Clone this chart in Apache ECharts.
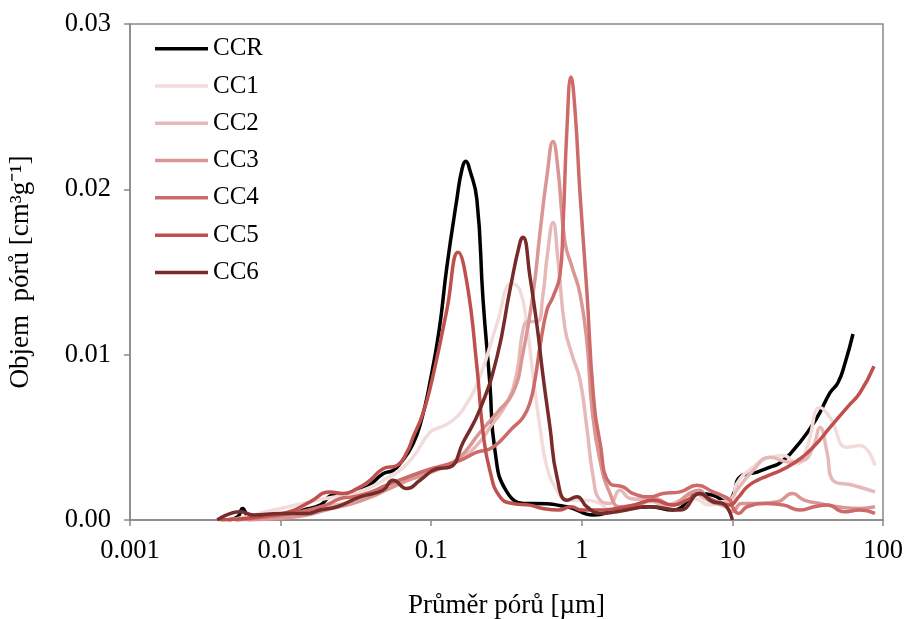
<!DOCTYPE html>
<html>
<head>
<meta charset="utf-8">
<script src="https://cdn.jsdelivr.net/npm/echarts@6/dist/echarts.min.js"></script>
<style>
  html, body { margin: 0; padding: 0; background: #fff; }
  #chartBox { width: 906px; height: 619px; }
</style>
</head>
<body>
<div id="chartBox"></div>
<script>
// pore diameter [um] vs pore volume [cm3/g]
const seriesNames = ['CCR', 'CC1', 'CC2', 'CC3', 'CC4', 'CC5', 'CC6']
const seriesColors = ['#000000', '#f2dcdb', '#e6b9b8', '#d99694', '#cd6b6a', '#c0504d', '#772c2a']
const xTickLabels = ['0.001', '0.01', '0.1', '1', '10', '100']

const ccrData = [
  [0.0045, 0], [0.0052, 0.0002], [0.0056, 0.0007], [0.0062, 0.0002], [0.0085, 0.0002], [0.0115, 0.0003],
  [0.0141, 0.0006], [0.0183, 0.0009], [0.0223, 0.0015], [0.0248, 0.0014], [0.0289, 0.0016], [0.0375, 0.002],
  [0.0479, 0.0028], [0.0557, 0.003], [0.062, 0.0034], [0.0757, 0.0046], [0.087, 0.0062], [0.098, 0.0083],
  [0.113, 0.0115], [0.127, 0.0153], [0.148, 0.0194], [0.16, 0.0212], [0.17, 0.0217], [0.18, 0.0212],
  [0.201, 0.0194], [0.221, 0.0133], [0.245, 0.0083], [0.265, 0.0042], [0.318, 0.0017], [0.433, 0.001],
  [0.475, 0.001], [0.8, 0.0008], [1.2, 0.0003], [1.71, 0.0006], [2.84, 0.0008], [4.03, 0.0006],
  [6.1, 0.0016], [7.43, 0.0015], [9.2, 0.0011], [10.2, 0.0016], [11.2, 0.0026], [14.6, 0.0029],
  [17.8, 0.0032], [20.7, 0.00345], [28.1, 0.0047], [36.5, 0.0062], [44.5, 0.0077], [50.2, 0.0083],
  [56, 0.0095], [63.2, 0.01125]
]
const cc1Data = [
  [0.0045, 0], [0.006, 0.0002], [0.008, 0.0005], [0.01, 0.0007], [0.014, 0.001], [0.02, 0.0013],
  [0.03, 0.0016], [0.04, 0.002], [0.05, 0.0025], [0.062, 0.003], [0.0757, 0.0038], [0.098, 0.0053],
  [0.114, 0.0056], [0.133, 0.0059], [0.163, 0.0067], [0.211, 0.0087], [0.274, 0.0119], [0.344, 0.0143],
  [0.389, 0.0139], [0.433, 0.0117], [0.475, 0.0087], [0.528, 0.0056], [0.587, 0.0032], [0.684, 0.0018],
  [0.798, 0.0012], [1.02, 0.0012], [1.32, 0.001], [1.54, 0.0006], [2, 0.0008], [3, 0.0011], [4, 0.0009],
  [5, 0.0014], [6, 0.0012], [7, 0.0009], [8.5, 0.0011], [10, 0.0012], [10.7, 0.0022], [13.7, 0.0032],
  [17.8, 0.0038], [21.7, 0.0039], [26.9, 0.0034], [31.3, 0.0044], [38.2, 0.0068], [44.5, 0.0062],
  [57.7, 0.0044], [70.3, 0.0045], [88.5, 0.0033]
]
const cc2Data = [
  [0.005, 0], [0.008, 0.0001], [0.01, 0.0002], [0.015, 0.0005], [0.02, 0.0008], [0.03, 0.0011],
  [0.04, 0.0015], [0.05, 0.0019], [0.07, 0.0025], [0.1, 0.003], [0.15, 0.0036], [0.2, 0.0045],
  [0.25, 0.0057], [0.318, 0.0071], [0.37, 0.0089], [0.407, 0.0115], [0.44, 0.012], [0.505, 0.012],
  [0.55, 0.0135], [0.59, 0.016], [0.644, 0.018], [0.695, 0.0157], [0.773, 0.0116], [0.861, 0.01],
  [0.972, 0.0085], [1.083, 0.0055], [1.19, 0.0026], [1.32, 0.0012], [1.54, 0.001], [1.79, 0.0018],
  [2.1, 0.0013], [2.84, 0.0012], [3.5, 0.0009], [4.5, 0.0012], [5.5, 0.0017], [6.5, 0.0013], [8, 0.001],
  [9.5, 0.0012], [10.7, 0.0018], [13.7, 0.003], [17.8, 0.0038], [24.1, 0.0035], [29.4, 0.0036],
  [34.3, 0.0044], [38.2, 0.0056], [42.5, 0.0041], [46.5, 0.0024], [63.2, 0.0021], [88.5, 0.0017]
]
const cc3Data = [
  [0.006, 0], [0.01, 0.0001], [0.015, 0.0003], [0.02, 0.0006], [0.03, 0.001], [0.04, 0.0014],
  [0.05, 0.0018], [0.07, 0.0024], [0.1, 0.0029], [0.15, 0.0037], [0.211, 0.0053], [0.274, 0.0065],
  [0.349, 0.0077], [0.407, 0.0101], [0.475, 0.0137], [0.528, 0.0174], [0.587, 0.0208], [0.644, 0.0229],
  [0.695, 0.0212], [0.773, 0.0168], [0.861, 0.0153], [0.972, 0.0137], [1.083, 0.0107], [1.17, 0.0067],
  [1.32, 0.0036], [1.54, 0.0016], [1.79, 0.0008], [2.5, 0.001], [3, 0.0013], [4, 0.0009], [5, 0.0015],
  [6, 0.0018], [7, 0.0012], [9, 0.0008], [10, 0.0005], [11.5, 0.001], [15, 0.001], [20, 0.0011],
  [25, 0.0016], [30, 0.0012], [38, 0.001], [50, 0.0008], [70, 0.0007], [88.5, 0.0008]
]
const cc4Data = [
  [0.005, 0], [0.008, 0.0002], [0.012, 0.0004], [0.02, 0.0009], [0.025, 0.0013], [0.03, 0.0014],
  [0.04, 0.0017], [0.05, 0.0021], [0.07, 0.0026], [0.1, 0.0031], [0.155, 0.0036], [0.201, 0.0041],
  [0.257, 0.0044], [0.349, 0.0056], [0.407, 0.0062], [0.453, 0.0071], [0.489, 0.0085], [0.528, 0.0105],
  [0.587, 0.0127], [0.644, 0.0135], [0.716, 0.0148], [0.75, 0.0177], [0.798, 0.0238], [0.848, 0.0268],
  [0.901, 0.0248], [0.972, 0.0198], [1.083, 0.0137], [1.19, 0.0077], [1.32, 0.0047], [1.54, 0.0022],
  [1.88, 0.002], [2.19, 0.0016], [2.84, 0.0014], [3.46, 0.0016], [4.49, 0.0017], [5.82, 0.0021],
  [7.43, 0.0017], [9.64, 0.0012], [10, 0.0008], [11, 0.0004], [12.5, 0.0008], [17, 0.001], [22, 0.0009],
  [28, 0.0006], [35, 0.0008], [43, 0.0009], [55, 0.0005], [70, 0.0006], [88.5, 0.0004]
]
const cc5Data = [
  [0.004, 0], [0.006, 0.0001], [0.0085, 0.0003], [0.0115, 0.0005], [0.0157, 0.0011], [0.0213, 0.0017],
  [0.0259, 0.0016], [0.0322, 0.0019], [0.0392, 0.0024], [0.0479, 0.0031], [0.0593, 0.0033], [0.069, 0.0041],
  [0.0757, 0.005], [0.087, 0.0063], [0.098, 0.0079], [0.127, 0.0127], [0.151, 0.0162], [0.173, 0.0143],
  [0.201, 0.0093], [0.221, 0.0053], [0.245, 0.003], [0.286, 0.0014], [0.349, 0.001], [0.453, 0.0009],
  [0.55, 0.0007], [0.7, 0.0006], [0.85, 0.0008], [1.0, 0.0006], [1.3, 0.0006], [1.7, 0.0007], [2.2, 0.0009],
  [3, 0.0012], [4, 0.0009], [5, 0.0012], [6, 0.0016], [7, 0.0013], [8.5, 0.001], [9.6, 0.0009], [11, 0.0014],
  [12.5, 0.002], [14.6, 0.0024], [18.6, 0.0028], [25.2, 0.0034], [34.3, 0.0044], [44.5, 0.0056],
  [57.7, 0.0068], [70.3, 0.0077], [87.1, 0.0093]
]
const cc6Data = [
  [0.0038, 0], [0.0054, 0.0005], [0.0066, 0.0003], [0.0099, 0.0004], [0.015, 0.0004], [0.0183, 0.0006],
  [0.0237, 0.0008], [0.0337, 0.0014], [0.0478, 0.0018], [0.0557, 0.0024], [0.069, 0.0019], [0.0843, 0.0024],
  [0.109, 0.0031], [0.133, 0.0032], [0.163, 0.0047], [0.211, 0.0067], [0.274, 0.0099], [0.333, 0.0139],
  [0.389, 0.0168], [0.407, 0.0171], [0.453, 0.0147], [0.505, 0.0117], [0.553, 0.0087], [0.615, 0.0056],
  [0.684, 0.0026], [0.798, 0.0012], [0.929, 0.0014], [1.08, 0.0008], [1.32, 0.0004], [1.71, 0.0005],
  [2.84, 0.0008], [4.49, 0.0006], [6.1, 0.0016], [7.43, 0.0011], [8.66, 0.001], [10, 0]
]
const allData = [ccrData, cc1Data, cc2Data, cc3Data, cc4Data, cc5Data, cc6Data]

const fontFamily = '"Liberation Serif", "Times New Roman", serif'
const axisGray = '#898989'

function chartRender () {
  const chart = echarts.init(document.querySelector('#chartBox'), null, { renderer: 'canvas' })
  const series = seriesNames.map((name, i) => ({
    name,
    type: 'line',
    data: allData[i],
    symbol: 'none',
    smooth: 0.5,
    lineStyle: { width: 3.5, color: seriesColors[i] },
    itemStyle: { color: seriesColors[i] },
    z: 2 + i,
  }))

  const opts = {
    animation: false,
    backgroundColor: '#fff',
    textStyle: { fontFamily },
    grid: {
      left: 130,
      right: 23,
      top: 24,
      bottom: 99,
      outerBoundsMode: 'none',
      containLabel: false,
      show: true,
      borderColor: axisGray,
      borderWidth: 1.5,
    },
    legend: {
      orient: 'vertical',
      left: 155,
      top: 30,
      padding: 0,
      icon: 'rect',
      itemWidth: 53,
      itemHeight: 3.5,
      itemGap: 0,
      data: seriesNames,
      textStyle: { fontFamily, fontSize: 25, color: '#000', lineHeight: 37.3 },
    },
    xAxis: {
      type: 'log',
      logBase: 10,
      min: 0.001,
      max: 100,
      name: 'Průměr pórů [µm]',
      nameLocation: 'middle',
      nameGap: 72,
      nameTextStyle: { fontFamily, fontSize: 27, color: '#000' },
      axisLine: { show: true, lineStyle: { color: axisGray, width: 1.5 } },
      axisTick: { show: true, inside: false, length: 6, lineStyle: { color: axisGray, width: 1.5 } },
      minorTick: { show: false },
      splitLine: { show: false },
      axisLabel: {
        margin: 18,
        fontFamily,
        fontSize: 26.5,
        color: '#000',
        formatter: v => xTickLabels[Math.round(Math.log10(v)) + 3],
      },
    },
    yAxis: {
      type: 'value',
      min: 0,
      max: 0.03,
      interval: 0.01,
      name: 'Objem  pórů [cm³g⁻¹]',
      nameLocation: 'middle',
      nameGap: 96,
      nameTextStyle: { fontFamily, fontSize: 27, color: '#000' },
      axisLine: { show: true, lineStyle: { color: axisGray, width: 1.5 } },
      axisTick: { show: true, inside: false, length: 6, lineStyle: { color: axisGray, width: 1.5 } },
      splitLine: { show: false },
      axisLabel: {
        margin: 19,
        fontFamily,
        fontSize: 26.5,
        color: '#000',
        formatter: v => v.toFixed(2),
      },
    },
    series,
  }
  chart.setOption(opts)
}

chartRender()
</script>
</body>
</html>
